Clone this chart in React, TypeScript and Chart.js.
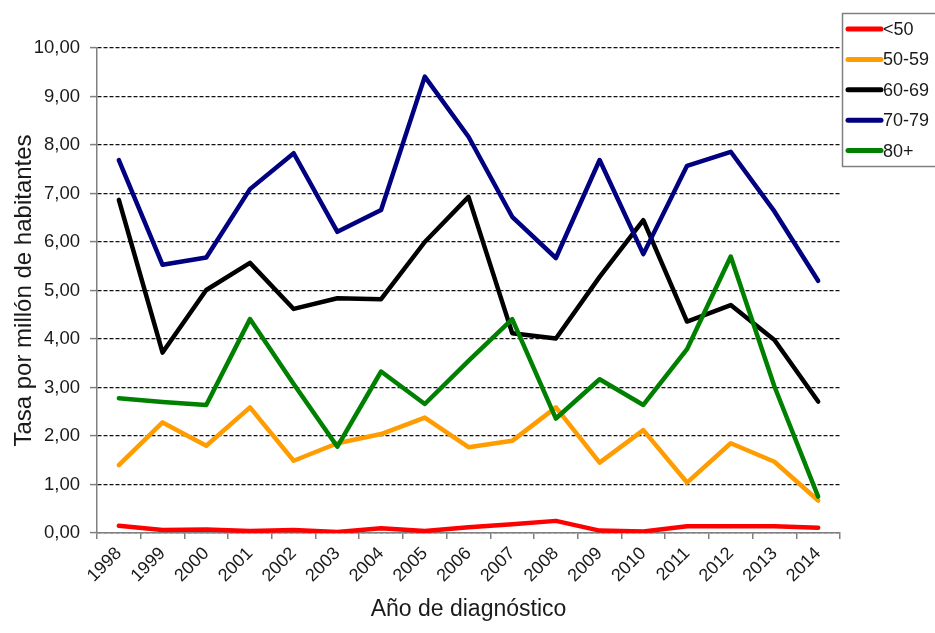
import React, { useEffect, useRef } from "react";
import { Chart, registerables } from "chart.js";

Chart.register(...registerables);

const years = ["1998","1999","2000","2001","2002","2003","2004","2005","2006","2007","2008","2009","2010","2011","2012","2013","2014"];

const under50 = [0.15,0.06,0.07,0.04,0.06,0.02,0.10,0.04,0.12,0.18,0.25,0.05,0.03,0.14,0.14,0.14,0.11];
const s50_59 = [1.40,2.28,1.80,2.59,1.49,1.85,2.04,2.38,1.77,1.90,2.59,1.45,2.12,1.04,1.85,1.47,0.67];
const s60_69 = [6.87,3.72,5.01,5.57,4.62,4.84,4.82,6.00,6.93,4.12,4.01,5.28,6.45,4.36,4.70,3.98,2.71];
const s70_79 = [7.69,5.53,5.68,7.09,7.83,6.21,6.66,9.41,8.17,6.52,5.67,7.69,5.75,7.57,7.86,6.63,5.20];
const s80plus = [2.78,2.70,2.64,4.41,3.07,1.78,3.33,2.66,3.55,4.41,2.36,3.17,2.64,3.79,5.70,3.02,0.75];

const seriesNames = ["<50", "50-59", "60-69", "70-79", "80+"];
const seriesColors = ["#ff0000", "#ff9c00", "#000000", "#000080", "#008000"];
const seriesData = [under50, s50_59, s60_69, s70_79, s80plus];

const yTitle = "Tasa por millón de habitantes";
const xTitle = "Año de diagnóstico";

const FONT = "'Liberation Sans', Arial, sans-serif";
const TEXT = "#1a1a1a";

const legendPlugin = {
  id: "customLegend",
  afterDraw(chart: any) {
    const ctx = chart.ctx;
    ctx.save();
    ctx.strokeStyle = "#808080";
    ctx.lineWidth = 1.5;
    ctx.strokeRect(842.5, 13.5, 110, 153);
    ctx.font = `18px ${FONT}`;
    ctx.textAlign = "left";
    ctx.textBaseline = "middle";
    seriesNames.forEach((name, i) => {
      const y = 29 + i * 30.4;
      ctx.strokeStyle = seriesColors[i];
      ctx.lineWidth = 5;
      ctx.lineCap = "round";
      ctx.beginPath();
      ctx.moveTo(848, y);
      ctx.lineTo(881, y);
      ctx.stroke();
      ctx.fillStyle = TEXT;
      ctx.fillText(name, 883, y + 1);
    });
    ctx.restore();
  },
};

export default function App() {
  const ref = useRef<HTMLCanvasElement | null>(null);

  useEffect(() => {
    if (!ref.current) return;
    const chart = new Chart(ref.current, {
      type: "line",
      data: {
        labels: years,
        datasets: seriesNames.map((name, i) => ({
          label: name,
          data: seriesData[i],
          borderColor: seriesColors[i],
          backgroundColor: seriesColors[i],
          borderWidth: 4.5,
          pointRadius: 0,
          tension: 0,
          fill: false,
          borderJoinStyle: "round" as const,
          borderCapStyle: "round" as const,
          order: seriesNames.length - i,
        })),
      },
      options: {
        animation: false,
        responsive: false,
        maintainAspectRatio: false,
        layout: { padding: { top: 48, right: 95, left: 0, bottom: 0 } },
        plugins: {
          legend: { display: false },
          tooltip: { enabled: false },
          title: { display: false },
        },
        scales: {
          x: {
            type: "category",
            offset: true,
            afterFit: (s: any) => { s.height = 100; },
            grid: {
              offset: true,
              drawOnChartArea: false,
              drawTicks: true,
              tickLength: 6,
              color: "#808080",
              lineWidth: 1.5,
            },
            border: { color: "#808080", width: 1.5 },
            ticks: {
              autoSkip: false,
              minRotation: 45,
              maxRotation: 45,
              padding: 4,
              color: TEXT,
              font: { family: FONT, size: 18 },
            },
            title: {
              display: true,
              text: xTitle,
              color: TEXT,
              font: { family: FONT, size: 23 },
              padding: { top: 0, bottom: 10 },
            },
          },
          y: {
            min: 0,
            max: 10,
            afterFit: (s: any) => { s.width = 97; },
            grid: {
              color: "#111111",
              lineWidth: 1.2,
              drawTicks: true,
              tickLength: 7,
              tickColor: "#808080",
              tickBorderDash: [],
              tickWidth: 1.5,
            } as any,
            border: { color: "#808080", width: 1.5, dash: [4, 2] } as any,
            ticks: {
              stepSize: 1,
              padding: 10,
              color: TEXT,
              font: { family: FONT, size: 18.5 },
              callback: (v: any) => Number(v).toFixed(2).replace(".", ","),
            },
            title: {
              display: true,
              text: yTitle,
              color: TEXT,
              font: { family: FONT, size: 24 },
              padding: { top: 9.5, bottom: 0 },
            },
          },
        },
      },
      plugins: [legendPlugin],
    });
    return () => chart.destroy();
  }, []);

  return (
    <div style={{ position: "fixed", left: 0, top: 0, width: 935, height: 633, background: "#fff" }}>
      <canvas ref={ref} width={935} height={633} style={{ width: 935, height: 633, display: "block" }} />
    </div>
  );
}
